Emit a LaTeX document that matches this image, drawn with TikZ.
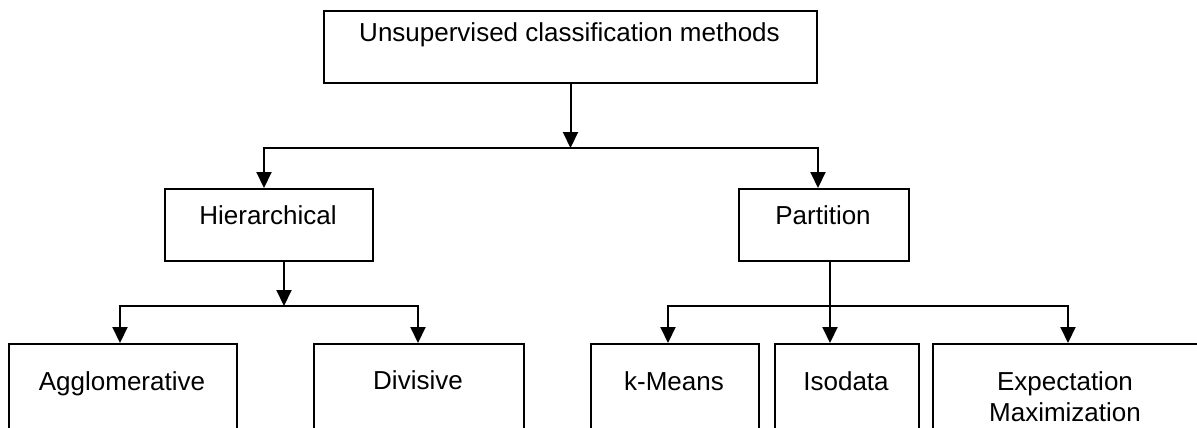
\documentclass[tikz,border=0pt]{standalone}
\usepackage{fontspec}
\setmainfont{Liberation Sans}
\usetikzlibrary{arrows.meta}
\begin{document}
\begin{tikzpicture}[x=1bp,y=-1bp,
  box/.style={draw=black, line width=2bp, fill=white, inner sep=0pt, anchor=north west},
  lbl/.style={anchor=base, inner sep=0pt, font=\fontsize{26bp}{31bp}\selectfont, align=center},
  wire/.style={line width=2bp, line join=miter},
  tip/.tip={Triangle[width=15bp,length=16bp]},
  arr/.style={wire, -tip},
  twoarr/.style={wire, tip-tip}]
\useasboundingbox (0,0) rectangle (1197,427);
\clip (0,0) rectangle (1197,427);

% boxes
\node[box, minimum width=493bp, minimum height=72bp] (root) at (323,10) {};
\node[box, minimum width=208bp, minimum height=72bp] (hier) at (164,188) {};
\node[box, minimum width=170bp, minimum height=72bp] (part) at (738,188) {};
\node[box, minimum width=228bp, minimum height=120bp] (agg) at (8,343) {};
\node[box, minimum width=210bp, minimum height=120bp] (div) at (313,343) {};
\node[box, minimum width=168bp, minimum height=120bp] (km) at (590,343) {};
\node[box, minimum width=144bp, minimum height=120bp] (iso) at (774,343) {};
\node[box, minimum width=290bp, minimum height=120bp] (em) at (932,343) {};

% labels (the base anchor of a two-line label is its last line)
\node[lbl] (rootT) at (569.5,41) {Unsupervised classification methods};
\node[lbl] (hierT) at (268,224) {Hierarchical};
\node[lbl] (partT) at (823,224) {Partition};
\node[lbl] (aggT) at (122,390) {Agglomerative};
\node[lbl] (divT) at (418,389) {Divisive};
\node[lbl] (kmT) at (674,390) {k-Means};
\node[lbl] (isoT) at (846,390) {Isodata};
\node[lbl] (emT) at (1065,421) {Expectation\\Maximization};

% junction points
\coordinate (busA) at (264,148);
\coordinate (busB) at (818,148);
\coordinate (hj) at (284,306);
\coordinate (busC) at (120,306);
\coordinate (busD) at (418,306);
\coordinate (pj) at (830,306);
\coordinate (busE) at (668,306);
\coordinate (busF) at (1068,306);

% first level
\draw[arr] (root.south) -- (root.south |- busA);
\draw[twoarr] (busA |- hier.north) -- (busA) -- (busB) -- (busB |- part.north);

% hierarchical branch
\draw[arr] (hj |- hier.south) -- (hj);
\draw[twoarr] (busC |- agg.north) -- (busC) -- (busD) -- (busD |- div.north);

% partition branch
\draw[arr] (pj |- part.south) -- (pj |- iso.north);
\draw[twoarr] (busE |- km.north) -- (busE) -- (busF) -- (busF |- em.north);
\end{tikzpicture}
\end{document}
